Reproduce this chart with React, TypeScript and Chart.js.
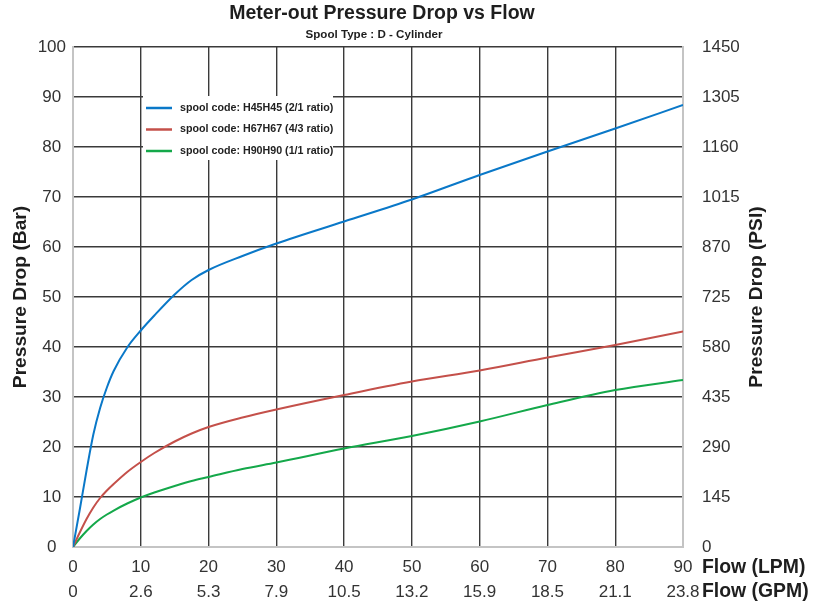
import React, { useEffect, useRef } from "react";
import { Chart, registerables } from "chart.js";

Chart.register(...registerables);

const FONT = '"Liberation Sans", Arial, Helvetica, sans-serif';

const TITLE = "Meter-out Pressure Drop vs Flow";
const SUBTITLE = "Spool Type : D - Cylinder";
const Y_TITLE = "Pressure Drop (Bar)";
const Y2_TITLE = "Pressure Drop (PSI)";
const X_TITLE_LPM = "Flow (LPM)";
const X_TITLE_GPM = "Flow (GPM)";

// Flow in LPM
const flowLpm = [0, 1, 2, 3, 4, 5, 6, 8, 10, 12, 15, 17.5, 20, 25, 30, 40, 50, 60, 70, 80, 90];
// Pressure drop in Bar
const h45h45 = [0, 7.5, 15.3, 22.5, 27.8, 31.9, 35.2, 39.9, 43.3, 46.3, 50.5, 53.4, 55.4, 58.2, 60.7, 65.1, 69.5, 74.4, 79.1, 83.7, 88.4];
const h67h67 = [0, 2.9, 5.6, 7.9, 9.8, 11.3, 12.6, 15.0, 17.0, 18.8, 21.1, 22.7, 24, 25.9, 27.5, 30.4, 33.1, 35.3, 37.9, 40.4, 43.1];
const h90h90 = [0, 1.7, 3.2, 4.5, 5.6, 6.5, 7.3, 8.7, 9.9, 10.9, 12.2, 13.2, 14, 15.6, 16.9, 19.7, 22.2, 25.1, 28.4, 31.4, 33.4];

const seriesLabels = [
  "spool code: H45H45 (2/1 ratio)",
  "spool code: H67H67 (4/3 ratio)",
  "spool code: H90H90 (1/1 ratio)",
];
const seriesColors = ["#0a78c8", "#c4504a", "#14a84a"];

// Tick labels
const lpmTicks = [0, 10, 20, 30, 40, 50, 60, 70, 80, 90];
const gpmTicks = ["0", "2.6", "5.3", "7.9", "10.5", "13.2", "15.9", "18.5", "21.1", "23.8"];
const barMax = 100;
const barStep = 10;
const psiMax = 1450;
const psiStep = 145;

const GRID = "#3a3a3a";
const BORDER = "#c4c4c4";
const TICK_COLOR = "#333333";

const overlayPlugin = {
  id: "overlay",
  afterDraw(chart: any) {
    const ctx = chart.ctx as CanvasRenderingContext2D;
    const a = chart.chartArea;
    const midY = (a.top + a.bottom) / 2;
    ctx.save();
    ctx.fillStyle = "#1e1e1e";
    ctx.textAlign = "center";
    ctx.textBaseline = "alphabetic";
    ctx.font = `bold 19.5px ${FONT}`;
    ctx.fillText(TITLE, 382, 19);
    ctx.font = `bold 11.6px ${FONT}`;
    ctx.fillText(SUBTITLE, 374, 38);

    ctx.font = `bold 19.2px ${FONT}`;
    ctx.textBaseline = "middle";
    ctx.save();
    ctx.translate(21, midY);
    ctx.rotate(-Math.PI / 2);
    ctx.fillText(Y_TITLE, 0, 0);
    ctx.restore();
    ctx.save();
    ctx.translate(757, midY);
    ctx.rotate(-Math.PI / 2);
    ctx.fillText(Y2_TITLE, 0, 0);
    ctx.restore();

    ctx.textAlign = "left";
    ctx.font = `bold 19.4px ${FONT}`;
    ctx.fillText(X_TITLE_LPM, 702, 568);
    ctx.fillText(X_TITLE_GPM, 702, 592);

    // legend
    ctx.fillStyle = "#ffffff";
    ctx.fillRect(143, 96, 190, 64);
    ctx.font = `bold 10.7px ${FONT}`;
    chart.data.datasets.forEach((ds: any, i: number) => {
      const y = 108 + i * 21.5;
      ctx.strokeStyle = ds.borderColor;
      ctx.lineWidth = 2.5;
      ctx.beginPath();
      ctx.moveTo(146, y);
      ctx.lineTo(172, y);
      ctx.stroke();
      ctx.fillStyle = "#222222";
      ctx.fillText(ds.label, 180, y);
    });
    ctx.restore();
  },
};

export default function App() {
  const ref = useRef<HTMLCanvasElement | null>(null);
  useEffect(() => {
    if (!ref.current) return;
    const series = [h45h45, h67h67, h90h90];
    const chart = new Chart(ref.current, {
      type: "line",
      data: {
        datasets: series.map((vals, i) => ({
          label: seriesLabels[i],
          data: flowLpm.map((x, j) => ({ x, y: vals[j] })),
          borderColor: seriesColors[i],
          backgroundColor: seriesColors[i],
          borderWidth: 2,
          pointRadius: 0,
          cubicInterpolationMode: "monotone" as const,
          yAxisID: "y",
        })),
      },
      options: {
        responsive: false,
        animation: false,
        layout: { padding: { top: 47, left: 0, right: 0, bottom: 0 } },
        plugins: {
          legend: { display: false },
          title: { display: false },
          tooltip: { enabled: false },
        },
        scales: {
          x: {
            type: "linear",
            position: "bottom",
            min: 0,
            max: 90,
            afterFit: (s: any) => { s.height = 60; },
            afterBuildTicks: (s: any) => { s.ticks = lpmTicks.map((v) => ({ value: v })); },
            ticks: {
              stepSize: 10,
              padding: 8,
              maxRotation: 0,
              autoSkip: false,
              color: TICK_COLOR,
              font: { family: FONT, size: 17, lineHeight: 1.47 },
              callback: (v: any) => {
                const idx = lpmTicks.indexOf(Number(v));
                return [String(v), gpmTicks[idx] ?? ""];
              },
            },
            grid: {
              drawTicks: false,
              lineWidth: 1.4,
              color: (c: any) => (c.tick && (c.tick.value === 0 || c.tick.value === 90) ? "rgba(0,0,0,0)" : GRID),
            },
            border: { color: BORDER, width: 2 },
          },
          y: {
            type: "linear",
            position: "left",
            min: 0,
            max: barMax,
            afterFit: (s: any) => { s.width = 73; },
            ticks: {
              stepSize: barStep,
              padding: 7,
              crossAlign: "center",
              color: TICK_COLOR,
              font: { family: FONT, size: 17 },
              callback: (v: any) => String(v),
            },
            grid: {
              drawTicks: false,
              lineWidth: 1.4,
              color: (c: any) => (c.tick && c.tick.value === 0 ? "rgba(0,0,0,0)" : GRID),
            },
            border: { color: BORDER, width: 2 },
          },
          y2: {
            type: "linear",
            position: "right",
            min: 0,
            max: psiMax,
            afterFit: (s: any) => { s.width = 141; },
            ticks: {
              stepSize: psiStep,
              padding: 11,
              color: TICK_COLOR,
              font: { family: FONT, size: 17 },
              callback: (v: any) => String(v),
            },
            grid: { display: false, drawOnChartArea: false },
            border: { color: BORDER, width: 2 },
          },
        },
      },
      plugins: [overlayPlugin],
    } as any);
    return () => chart.destroy();
  }, []);
  return (
    <div style={{ position: "fixed", left: 0, top: 0, width: 824, height: 607, background: "#fff" }}>
      <canvas ref={ref} width={824} height={607} style={{ display: "block" }} />
    </div>
  );
}
